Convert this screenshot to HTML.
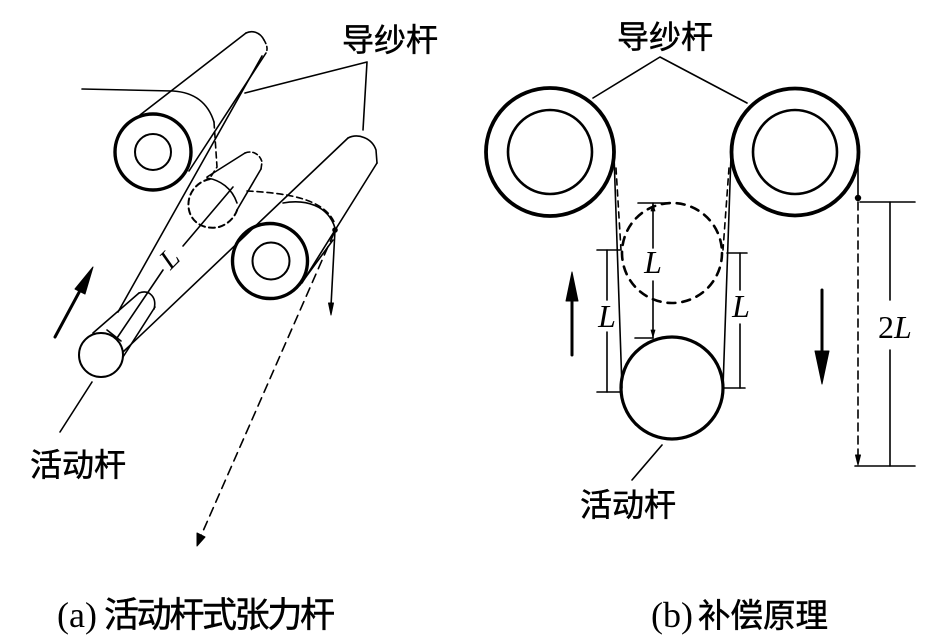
<!DOCTYPE html>
<html><head><meta charset="utf-8"><style>
html,body{margin:0;padding:0;background:#fff;}
svg{display:block;}
.cjk{font-family:"Liberation Sans","Noto Sans CJK SC","WenQuanYi Zen Hei",sans-serif;stroke:#000;stroke-width:0.5;}
.it{font-family:"Liberation Serif",serif;font-style:italic;}
.sr{font-family:"Liberation Serif",serif;}
</style></head><body>
<svg width="950" height="644" viewBox="0 0 950 644" xmlns="http://www.w3.org/2000/svg">
<rect width="950" height="644" fill="#fff"/>
<g stroke="#000" fill="none" stroke-width="1.6" stroke-linecap="round" stroke-linejoin="round">
<!-- ===== LEFT DIAGRAM ===== -->
<polyline points="245,93 367,62 363,130"/>
<path d="M82,89 L173,91 Q205,93 214,122"/>
<path d="M214,122 L217,167 L210,178" stroke-dasharray="6 4"/>
<!-- roller 1 -->
<circle cx="153" cy="152" r="38" stroke-width="3.4"/>
<circle cx="153" cy="152" r="18" stroke-width="2"/>
<line x1="140" y1="115" x2="246" y2="33"/>
<path d="M246,33 C252,30 260,32 264,40"/>
<path d="M264,40 C267,45 268,49 266,53" stroke-dasharray="4 3"/>
<line x1="266" y1="53" x2="189" y2="171"/>
<line x1="262" y1="56" x2="118" y2="312"/>
<!-- dashed moving rod -->
<path d="M210,179 C195,182 186,196 189,210 C192,224 206,230 219,227 C229,224 236,216 238,207" stroke-dasharray="6 4" stroke-width="2"/>
<path d="M207,178 C220,180 232,188 237,203"/>
<line x1="207" y1="177" x2="245" y2="153"/>
<path d="M245,153 C252,150 260,154 262,162 L261,169" stroke-dasharray="5 3"/>
<line x1="261" y1="169" x2="237" y2="210"/>
<path d="M247,191 C285,193 325,198 335,224" stroke-dasharray="6 4"/>
<!-- roller 2 -->
<circle cx="270" cy="261" r="37.5" stroke-width="3.4"/>
<circle cx="271" cy="261" r="18.5" stroke-width="2"/>
<line x1="348" y1="138" x2="123" y2="352"/>
<path d="M348,138 C358,133 372,138 376,150 L377,163"/>
<line x1="377" y1="163" x2="302" y2="283"/>
<path d="M283,203 C305,199 328,205 335,228"/>
<line x1="333" y1="240" x2="300" y2="285"/>
<circle cx="335" cy="230" r="2" fill="#000"/>
<line x1="335" y1="230" x2="331" y2="306"/>
<polygon points="331,315 328.5,303 333.5,303" fill="#000" stroke-width="1"/>
<line x1="334" y1="233" x2="200" y2="538" stroke-dasharray="9 6"/>
<polygon points="197,546 197,533 205,537" fill="#000" stroke-width="1"/>
<!-- dimension line L -->
<line x1="233" y1="187" x2="183" y2="246"/>
<line x1="163" y1="270" x2="117" y2="338"/>
<!-- moving rod solid -->
<circle cx="101" cy="355" r="22" stroke-width="2"/>
<line x1="93" y1="333" x2="139" y2="293"/>
<path d="M139,293 C150,289 157,298 154,309"/>
<line x1="155" y1="307" x2="123" y2="357"/>
<line x1="107" y1="330" x2="121" y2="341"/>
<!-- thick arrow -->
<line x1="55" y1="337" x2="83" y2="285" stroke-width="3"/>
<polygon points="93,267 75,289 85,294" fill="#000" stroke-width="1"/>
<line x1="92" y1="382" x2="60" y2="432"/>

<!-- ===== RIGHT DIAGRAM ===== -->
<polyline points="593,98 660,57 747,103"/>
<circle cx="550" cy="152" r="64" stroke-width="3.8"/>
<circle cx="550" cy="152" r="42" stroke-width="2.6"/>
<circle cx="795" cy="152" r="63.5" stroke-width="3.8"/>
<circle cx="795" cy="152" r="42" stroke-width="2.6"/>
<line x1="614" y1="155" x2="622" y2="388"/>
<line x1="731" y1="155" x2="723" y2="388"/>
<line x1="616" y1="168" x2="621" y2="250" stroke-dasharray="6 5"/>
<line x1="729" y1="168" x2="723" y2="250" stroke-dasharray="6 5"/>
<circle cx="672" cy="253" r="50" stroke-width="2.6" stroke-dasharray="8 7"/>
<circle cx="672" cy="388" r="51" stroke-width="3.2"/>
<!-- center L dim -->
<line x1="638" y1="203" x2="670" y2="203"/>
<line x1="653" y1="203" x2="653" y2="248"/>
<line x1="653" y1="281" x2="653" y2="338"/>
<line x1="635" y1="338" x2="653" y2="338"/>
<polygon points="653,204 651,211 655,211" fill="#000" stroke-width="0.8"/>
<polygon points="653,337 651,330 655,330" fill="#000" stroke-width="0.8"/>
<!-- left L dim -->
<line x1="597" y1="250" x2="620" y2="250"/>
<line x1="607" y1="250" x2="607" y2="300"/>
<line x1="607" y1="332" x2="607" y2="392"/>
<line x1="597" y1="392" x2="622" y2="392"/>
<!-- right L dim -->
<line x1="727" y1="253" x2="747" y2="253"/>
<line x1="740" y1="253" x2="740" y2="290"/>
<line x1="740" y1="324" x2="740" y2="388"/>
<line x1="723" y1="388" x2="745" y2="388"/>
<!-- thick arrows -->
<line x1="572" y1="355" x2="572" y2="295" stroke-width="3"/>
<polygon points="572,272 566,301 578,301" fill="#000" stroke-width="1"/>
<line x1="822" y1="290" x2="822" y2="356" stroke-width="3"/>
<polygon points="822,384 815,351 829,351" fill="#000" stroke-width="1"/>
<!-- right yarn & 2L -->
<line x1="858" y1="150" x2="858" y2="197"/>
<circle cx="858" cy="198" r="2.4" fill="#000"/>
<line x1="858" y1="202" x2="858" y2="456" stroke-dasharray="8 5"/>
<polygon points="858,465 855.5,455 860.5,455" fill="#000" stroke-width="1"/>
<line x1="860" y1="202" x2="915" y2="202"/>
<line x1="890" y1="202" x2="890" y2="300"/>
<line x1="890" y1="350" x2="890" y2="466"/>
<line x1="855" y1="466" x2="915" y2="466"/>
<line x1="662" y1="445" x2="632" y2="480"/>
</g>

<!-- text -->
<g fill="#000">
<text class="cjk" x="342" y="51" font-size="32">导纱杆</text>
<text class="cjk" x="617" y="48" font-size="32">导纱杆</text>
<text class="cjk" x="30" y="476" font-size="32">活动杆</text>
<text class="cjk" x="580" y="516" font-size="32">活动杆</text>
<text class="it" x="0" y="0" font-size="28" text-anchor="middle" transform="translate(176,265) rotate(-45)">L</text>
<text class="it" x="653" y="273" font-size="32" text-anchor="middle">L</text>
<text class="it" x="607" y="327" font-size="32" text-anchor="middle">L</text>
<text class="it" x="741" y="317" font-size="32" text-anchor="middle">L</text>
<text class="sr" x="878" y="338" font-size="32">2<tspan class="it">L</tspan></text>
<text class="sr" x="57" y="627" font-size="36">(a)</text>
<text class="cjk" x="104" y="627" font-size="35" textLength="231" lengthAdjust="spacing">活动杆式张力杆</text>
<text class="sr" x="651" y="627" font-size="36">(b)</text>
<text class="cjk" x="698" y="627" font-size="33" textLength="130" lengthAdjust="spacingAndGlyphs">补偿原理</text>
</g>
</svg>
</body></html>
